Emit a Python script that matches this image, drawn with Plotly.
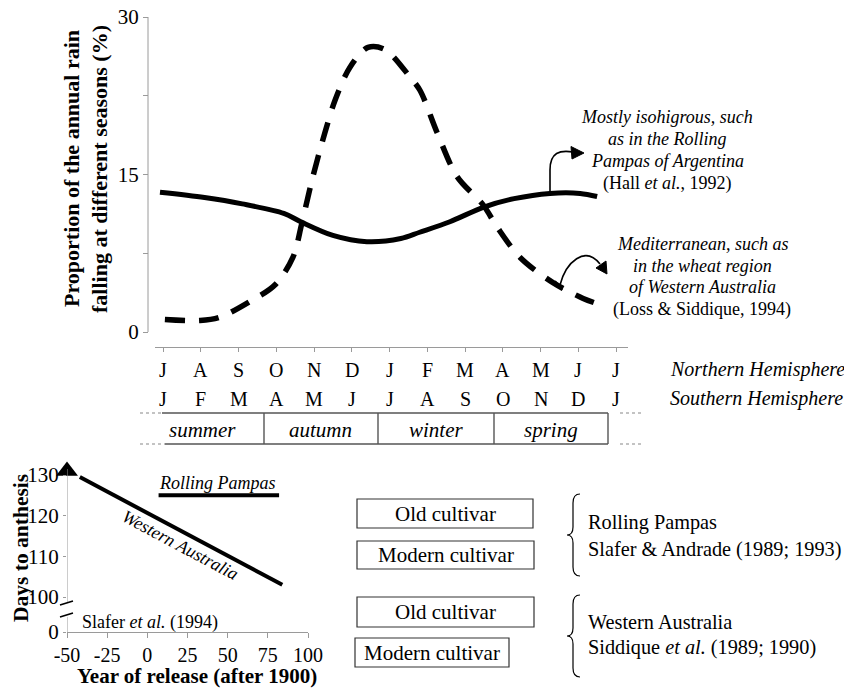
import plotly.graph_objects as go

W, H = 844, 692
FONT = "Liberation Serif"

# ---------------- data ----------------
# Top panel: month index (0 = first J column) and % of annual rain
solid_months = [-0.08, 1.1, 2.1, 3.2, 3.65, 4.5, 5.4, 6.3, 6.8, 7.6, 8.5, 9.3, 10.25, 11.05, 11.5]
solid_vals = [13.3, 12.8, 12.2, 11.3, 10.5, 9.2, 8.6, 8.9, 9.5, 10.5, 11.9, 12.7, 13.2, 13.2, 12.9]

dashed_months = [0.05, 0.98, 1.5, 2.3, 2.97, 3.44, 3.68, 3.97, 4.29, 4.56, 4.95, 5.43, 5.88,
                 6.54, 6.81, 7.26, 7.79, 8.48, 8.85, 9.46, 10.33, 11.13, 11.5]
dashed_vals = [1.2, 1.1, 1.4, 2.9, 4.5, 7.1, 10.4, 14.8, 19.0, 22.1, 25.2, 27.1, 26.9,
               24.3, 23.0, 19.0, 14.8, 12.1, 10.0, 7.1, 4.7, 3.2, 2.7]

north_months = ["J", "A", "S", "O", "N", "D", "J", "F", "M", "A", "M", "J", "J"]
south_months = ["J", "F", "M", "A", "M", "J", "J", "A", "S", "O", "N", "D", "J"]
seasons = ["summer", "autumn", "winter", "spring"]
top_yticks = [0, 7.5, 15, 22.5, 30]
top_yticklabels = ["0", "", "15", "", "30"]

# Bottom-left panel: year of release (after 1900) vs days to anthesis
wa_years = [-42, 84]
wa_days = [129.5, 103]
rp_years = [7, 82]
rp_days = [125, 125]
marker_year = [-50]
marker_days = [131]
bottom_xticks = [-50, -25, 0, 25, 50, 75, 100]
bottom_xticklabels = ["-50", "-25", "0", "25", "50", "75", "100"]
bottom_yticks = [91.4, 100, 110, 120, 130]          # 91.4 = position of the broken-axis "0"
bottom_yticklabels = ["0", "100", "110", "120", "130"]

# ---------------- helpers (pixel -> paper) ----------------
def px(x):
    return x / W

def py(y):
    return 1 - y / H

# top panel geometry
m0, mstep = 163, 37.75           # pixel of month 0, pixels per month
y0p, ypu = 332, 10.5             # pixel of 0 %, pixels per %
x_left, x_right = 155, 628
y_top, y_bot = 17, 347

fig = go.Figure()

fig.add_trace(go.Scatter(x=solid_months, y=solid_vals, mode="lines",
                         line=dict(color="black", width=5, shape="spline", smoothing=0.9),
                         xaxis="x", yaxis="y", showlegend=False, hoverinfo="skip"))
fig.add_trace(go.Scatter(x=dashed_months, y=dashed_vals, mode="lines",
                         line=dict(color="black", width=5.5, shape="spline", smoothing=0.9,
                                   dash="20px,14px"),
                         xaxis="x", yaxis="y", showlegend=False, hoverinfo="skip"))

fig.add_trace(go.Scatter(x=wa_years, y=wa_days, mode="lines",
                         line=dict(color="black", width=4),
                         xaxis="x2", yaxis="y2", showlegend=False, hoverinfo="skip"))
fig.add_trace(go.Scatter(x=rp_years, y=rp_days, mode="lines",
                         line=dict(color="black", width=4),
                         xaxis="x2", yaxis="y2", showlegend=False, hoverinfo="skip"))
fig.add_trace(go.Scatter(x=marker_year, y=marker_days, mode="markers",
                         marker=dict(symbol="triangle-up", size=19, color="black"),
                         cliponaxis=False,
                         xaxis="x2", yaxis="y2", showlegend=False, hoverinfo="skip"))

AX = "#9a9a9a"
fig.update_layout(
    template="none",
    width=W, height=H,
    margin=dict(l=0, r=0, t=0, b=0, pad=0, autoexpand=False),
    paper_bgcolor="white", plot_bgcolor="white",
    font=dict(family=FONT, color="black"),
    showlegend=False,
    xaxis=dict(domain=[px(x_left), px(x_right)],
               range=[(x_left - m0) / mstep, (x_right - m0) / mstep],
               showgrid=False, zeroline=False, showline=True, linecolor=AX, linewidth=1,
               tickvals=list(range(13)), ticks="outside", ticklen=4, tickcolor=AX,
               showticklabels=False, anchor="y", automargin=False),
    yaxis=dict(domain=[py(y_bot), py(y_top)],
               range=[-(y_bot - y0p) / ypu, (y0p - y_top) / ypu],
               showgrid=False, zeroline=False, showline=False,
               tickvals=top_yticks, ticktext=top_yticklabels,
               ticks="outside", ticklen=5, tickcolor=AX,
               tickfont=dict(size=21, family=FONT),
               anchor="free", position=px(148), automargin=False),
    xaxis2=dict(domain=[px(67), px(308)], range=[-50, 100],
                showgrid=False, zeroline=False, showline=True, linecolor=AX, linewidth=1,
                tickvals=bottom_xticks, ticktext=bottom_xticklabels,
                ticks="outside", ticklen=5, tickcolor=AX,
                tickfont=dict(size=20, family=FONT), anchor="y2", automargin=False),
    yaxis2=dict(domain=[py(632), py(469)], range=[91.4, 131.48],
                showgrid=False, zeroline=False, showline=False,
                tickvals=bottom_yticks, ticktext=bottom_yticklabels,
                ticks="outside", ticklen=3, tickcolor=AX,
                tickfont=dict(size=21, family=FONT), anchor="x2", automargin=False),
)

shapes = []
# top y-axis line
shapes.append(dict(type="line", xref="paper", yref="y", x0=px(148), x1=px(148), y0=0, y1=30,
                   line=dict(color=AX, width=1)))
# bottom y-axis line with a break
shapes.append(dict(type="line", xref="x2", yref="y2", x0=-50, x1=-50, y0=98.5, y1=131.48,
                   line=dict(color=AX, width=1)))
shapes.append(dict(type="line", xref="x2", yref="y2", x0=-50, x1=-50, y0=91.4, y1=95.1,
                   line=dict(color=AX, width=1)))
for (a, b, c, d) in [(60, 605, 73, 601), (60, 617, 73, 613)]:
    shapes.append(dict(type="line", xref="paper", yref="paper", x0=px(a), y0=py(b), x1=px(c), y1=py(d),
                       line=dict(color="black", width=1.5)))

# season band
GR = "#555555"
for yy, xs in [(413, 162), (444, 165)]:
    shapes.append(dict(type="line", xref="paper", yref="paper", x0=px(xs), x1=px(608), y0=py(yy), y1=py(yy),
                       line=dict(color=GR, width=1.6)))
    shapes.append(dict(type="line", xref="paper", yref="paper", x0=px(140), x1=px(xs), y0=py(yy), y1=py(yy),
                       line=dict(color="#888888", width=1.2, dash="dot")))
    shapes.append(dict(type="line", xref="paper", yref="paper", x0=px(620), x1=px(643), y0=py(yy), y1=py(yy),
                       line=dict(color="#888888", width=1.2, dash="dot")))
for xd in [264, 378, 494, 608]:
    shapes.append(dict(type="line", xref="paper", yref="paper", x0=px(xd), x1=px(xd), y0=py(413), y1=py(444),
                       line=dict(color=GR, width=1.4)))

def P(x, y):
    return f"{px(x):.5f},{py(y):.5f}"

# curved arrows in the top panel
shapes.append(dict(type="path", xref="paper", yref="paper",
                   path=f"M {P(550,194)} L {P(550,170)} C {P(550,152)} {P(560,150)} {P(573,152)}",
                   line=dict(color="black", width=1.6)))
shapes.append(dict(type="path", xref="paper", yref="paper",
                   path=f"M {P(584,153)} L {P(571,146.5)} L {P(572,159)} Z",
                   fillcolor="black", line=dict(color="black", width=1)))
shapes.append(dict(type="path", xref="paper", yref="paper",
                   path=f"M {P(560,285)} C {P(566,262)} {P(585,245)} {P(600,264)}",
                   line=dict(color="black", width=1.6)))
shapes.append(dict(type="path", xref="paper", yref="paper",
                   path=f"M {P(607,274)} L {P(596,268)} L {P(606,261)} Z",
                   fillcolor="black", line=dict(color="black", width=1)))
shapes.append(dict(type="line", xref="paper", yref="paper", x0=px(555), y0=py(281), x1=px(562), y1=py(290),
                   line=dict(color="black", width=2)))

# boxes
boxes = [(357, 499, 533, 528, "Old cultivar"), (357, 541, 534, 569, "Modern cultivar"),
         (357, 597, 534, 627, "Old cultivar"), (355, 638, 509, 667, "Modern cultivar")]
annotations = []
for (a, b, c, d, t) in boxes:
    shapes.append(dict(type="rect", xref="paper", yref="paper", x0=px(a), y0=py(b), x1=px(c), y1=py(d),
                       line=dict(color="#333333", width=1.2)))
    annotations.append(dict(x=px((a + c) / 2), y=py((b + d) / 2), xref="paper", yref="paper",
                            text=t, showarrow=False, font=dict(size=21, family=FONT),
                            xanchor="center", yanchor="middle"))

# braces
for (t, b) in [(494, 576), (595, 677)]:
    m = (t + b) / 2
    shapes.append(dict(type="path", xref="paper", yref="paper",
                       path=(f"M {P(580,t)} Q {P(573,t)} {P(573,t+9)} L {P(573,m-8)} "
                             f"Q {P(573,m)} {P(567,m)} Q {P(573,m)} {P(573,m+8)} "
                             f"L {P(573,b-9)} Q {P(573,b)} {P(580,b)}"),
                       line=dict(color="black", width=1.2)))

fig.update_layout(shapes=shapes)

def ann(x, y, text, size=17, xanchor="center", angle=0, **kw):
    annotations.append(dict(x=px(x), y=py(y), xref="paper", yref="paper", text=text,
                            showarrow=False, font=dict(size=size, family=FONT, color="black"),
                            xanchor=xanchor, yanchor="middle", textangle=angle, **kw))

# top y-axis title
ann(72, 169, "<b>Proportion of the annual rain</b>", size=22, angle=-90)
ann(100, 169, "<b>falling at different seasons (%)</b>", size=22, angle=-90)

# month labels
for i, (n, s) in enumerate(zip(north_months, south_months)):
    annotations.append(dict(x=i, y=py(370), xref="x", yref="paper", text=n, showarrow=False,
                            font=dict(size=20, family=FONT), xanchor="center", yanchor="middle"))
    annotations.append(dict(x=i, y=py(399), xref="x", yref="paper", text=s, showarrow=False,
                            font=dict(size=20, family=FONT), xanchor="center", yanchor="middle"))
ann(668, 369, "<i>Northern Hemisphere</i>", size=20, xanchor="left")
ann(668, 398, "<i>Southern Hemisphere</i>", size=20, xanchor="left")

for s, xc in zip(seasons, [202, 320, 436, 551]):
    ann(xc, 430, f"<i>{s}</i>", size=21)

# curve annotations
for i, t in enumerate(["<i>Mostly isohigrous, such</i>", "<i>as in the Rolling</i>",
                       "<i>Pampas of Argentina</i>", "(Hall <i>et al.</i>, 1992)"]):
    ann(667, 117 + 22 * i, t, size=18)
for i, t in enumerate(["<i>Mediterranean, such as</i>", "<i>in the wheat region</i>",
                       "<i>of Western Australia</i>", "(Loss &amp; Siddique, 1994)"]):
    ann(702, 244 + 21.7 * i, t, size=18)

# bottom-left panel text
ann(21, 548, "<b>Days to anthesis</b>", size=21.5, angle=-90)
ann(197, 676, "<b>Year of release (after 1900)</b>", size=21)
ann(217, 483, "<i>Rolling Pampas</i>", size=18)
ann(180, 545, "<i>Western Australia</i>", size=18, angle=28)
ann(80, 622, "Slafer <i>et al.</i> (1994)", size=18, xanchor="left")

# right-side references
ann(586, 522, "Rolling Pampas", size=20.3, xanchor="left")
ann(586, 549, "Slafer &amp; Andrade (1989; 1993)", size=20.3, xanchor="left")
ann(586, 622, "Western Australia", size=20.3, xanchor="left")
ann(586, 647, "Siddique <i>et al.</i> (1989; 1990)", size=20.3, xanchor="left")

fig.update_layout(annotations=annotations)

fig.write_html("out.html",
               config={"displayModeBar": False},
               post_script="document.body.style.margin='0px';document.body.style.overflow='hidden';")
